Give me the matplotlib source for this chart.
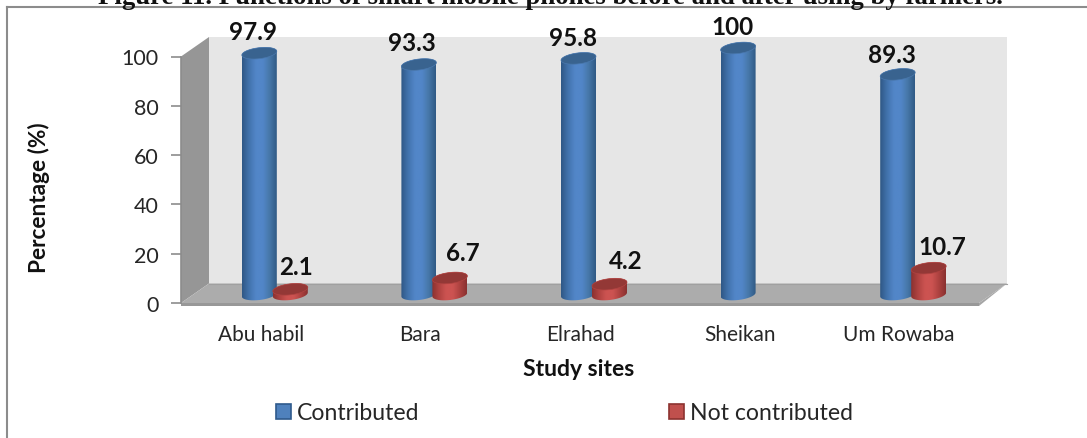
import numpy as np
import matplotlib
matplotlib.use("Agg")
import matplotlib.pyplot as plt
from matplotlib.colors import LinearSegmentedColormap
from matplotlib.lines import Line2D
from matplotlib.patches import Patch, Polygon

plt.rcParams['font.family'] = ['Lato', 'DejaVu Sans']

sites = ["Abu habil", "Bara", "Elrahad", "Sheikan", "Um Rowaba"]
contributed = [97.9, 93.3, 95.8, 100, 89.3]
not_contributed = [2.1, 6.7, 4.2, 0, 10.7]
y_ticks = [0, 20, 40, 60, 80, 100]

title = "Figure 11. Functions of smart mobile phones before and after using by farmers."

W, H = 1087, 439
AX_L, AX_R, AX_TOP, AX_BOT = 181, 979, 57.5, 304
PX_X = (AX_R - AX_L) / 5
PX_Y = (AX_BOT - AX_TOP) / 100
DEPTH_X, DEPTH_Y = 28, 19.5
LIFT = 8.5 / PX_Y

blue_map = LinearSegmentedColormap.from_list("blue", ["#2f5886", "#4273ad", "#5286c8", "#5286c8", "#4677a8", "#315a86"])
red_map = LinearSegmentedColormap.from_list("red", ["#8c3230", "#b04341", "#cc5351", "#cc5351", "#ad4240", "#8a3130"])


def ellipse(cx, y, half_w=17.5, half_h=5.5, tilt=0.11, start=0, stop=2 * np.pi):
    # slightly tilted ellipse, sizes in pixels, returned in data units
    t = np.linspace(start, stop, 60)
    ox = half_w * np.cos(t)
    oy = half_h * np.sin(t) + tilt * ox
    return np.column_stack([cx + ox / PX_X, y + oy / PX_Y])


def cylinder(ax, cx, value, cmap, top_color, edge_color):
    top_y = LIFT + value
    lower = ellipse(cx, LIFT, start=np.pi, stop=2 * np.pi)
    upper = ellipse(cx, top_y, start=0, stop=np.pi)
    body = Polygon(np.vstack([lower, upper]), closed=True, transform=ax.transData,
                   facecolor="none", edgecolor="none", zorder=4, clip_on=False)
    ax.add_patch(body)
    half = 17.5 / PX_X
    img = ax.imshow(np.linspace(0, 1, 64).reshape(1, -1), cmap=cmap, aspect="auto",
                    extent=[cx - half, cx + half, LIFT - 3, top_y + 3], zorder=4)
    # the tallest cylinders rise past the axes box, so only the outline clips them
    img.set_clip_box(fig.bbox)
    img.set_clip_path(body)
    ax.add_patch(Polygon(ellipse(cx, top_y), closed=True, facecolor=top_color,
                         edgecolor=edge_color, linewidth=0.5, zorder=5, clip_on=False))


fig = plt.figure(figsize=(W / 100, H / 100), dpi=100, facecolor="white")
ax = fig.add_axes([AX_L / W, 1 - AX_BOT / H, (AX_R - AX_L) / W, (AX_BOT - AX_TOP) / H])
ax.patch.set_visible(False)

# box walls and floor, in axes units
dx = DEPTH_X / (AX_R - AX_L)
dy = DEPTH_Y / (AX_BOT - AX_TOP)
slab = 3 / (AX_BOT - AX_TOP)
wall_style = dict(transform=ax.transAxes, clip_on=False, linewidth=0, zorder=1)
ax.add_patch(Polygon([(dx, dy), (1 + dx, dy), (1 + dx, 1 + dy), (dx, 1 + dy)], facecolor="#e6e6e6", **wall_style))
ax.add_patch(Polygon([(0, 0), (dx, dy), (dx, 1 + dy), (0, 1)], facecolor="#969696", **wall_style))
ax.add_patch(Polygon([(0, 0), (1, 0), (1 + dx, dy), (dx, dy)], facecolor="#acacac", **wall_style))
ax.add_patch(Polygon([(0, 0), (1, 0), (1, -slab), (0, -slab)], facecolor="#989898", **wall_style))
ax.add_patch(Polygon([(1, 0), (1 + dx, dy), (1, -slab)], facecolor="#a6a6a6", **wall_style))
ax.plot([dx, 1 + dx], [dy, dy], color="#a0a0a0", linewidth=0.8, transform=ax.transAxes, clip_on=False, zorder=2)

blue_x = np.arange(len(sites)) - 1.5 / PX_X
red_x = np.arange(len(sites)) + 29.5 / PX_X

# label offsets from the top of each cylinder, in pixels
blue_offsets = [(-6, 22), (-7, 22), (-6, 21), (-6, 21), (-6, 20)]
red_offsets = [(6, 23), (13, 25), (16, 24), (0, 0), (14, 22)]

for i in range(len(sites)):
    cylinder(ax, blue_x[i], contributed[i], blue_map, "#39638f", "#4a78ad")
    ax.annotate(f"{contributed[i]:g}", (blue_x[i], LIFT + contributed[i]), xytext=blue_offsets[i],
                textcoords="offset pixels", ha="center", va="center", fontsize=17.5,
                fontweight="bold", color="#111111", annotation_clip=False, zorder=7)
    if not_contributed[i] > 0:
        cylinder(ax, red_x[i], not_contributed[i], red_map, "#933836", "#b04341")
        ax.annotate(f"{not_contributed[i]:g}", (red_x[i], LIFT + not_contributed[i]), xytext=red_offsets[i],
                    textcoords="offset pixels", ha="center", va="center", fontsize=17.5,
                    fontweight="bold", color="#111111", annotation_clip=False, zorder=7)

ax.set_xlim(-0.5, len(sites) - 0.5)
ax.set_ylim(0, 100)
ax.set_xticks(range(len(sites)))
ax.set_xticklabels(sites)
ax.set_yticks(y_ticks)
ax.tick_params(axis="x", length=0, pad=15, labelsize=15, labelcolor="#262626")
ax.tick_params(axis="y", length=7, width=1.2, color="#8c8c8c", pad=9, labelsize=15.5, labelcolor="#262626")
for name in ["top", "right", "bottom"]:
    ax.spines[name].set_visible(False)
ax.spines["left"].set_color("#8c8c8c")
ax.spines["left"].set_linewidth(1.2)

ax.set_xlabel("Study sites", fontsize=16.5, fontweight="bold", color="#111111")
ax.xaxis.set_label_coords((579 - AX_L) / (AX_R - AX_L), (AX_BOT - 370) / (AX_BOT - AX_TOP), transform=ax.transAxes)
ax.xaxis.label.set_va("center")
ax.set_ylabel("Percentage (%)", fontsize=16.3, fontweight="bold", color="#111111")
ax.yaxis.set_label_coords((39 - AX_L) / (AX_R - AX_L), (AX_BOT - 198) / (AX_BOT - AX_TOP), transform=ax.transAxes)
ax.yaxis.label.set_va("center")

handles = [Patch(facecolor="#4f81bd", edgecolor="#2f5a8c", linewidth=1.2, label="Contributed"),
           Patch(facecolor="#c0504d", edgecolor="#8c3230", linewidth=1.2, label="Not contributed")]
fig.legend(handles=handles, ncol=2, frameon=False, fontsize=16.6, loc="center",
           bbox_to_anchor=(564.5 / W, 1 - 414 / H), handlelength=0.65, handleheight=0.65,
           handletextpad=0.26, columnspacing=10.8, labelcolor="#262626")

# chart frame and the caption running above it
frame = dict(color="#8c8c8c", linewidth=1.5, transform=fig.transFigure)
fig.add_artist(Line2D([7 / W, 1], [1 - 8 / H, 1 - 8 / H], **frame))
fig.add_artist(Line2D([7 / W, 7 / W], [1 - 8 / H, 0], **frame))
fig.text(550.5 / W, 1 - 3.5 / H, title, ha="center", va="baseline", fontsize=19.3,
         fontweight="bold", family="Liberation Serif", color="#111111")

fig.savefig("out.png", dpi=100)
